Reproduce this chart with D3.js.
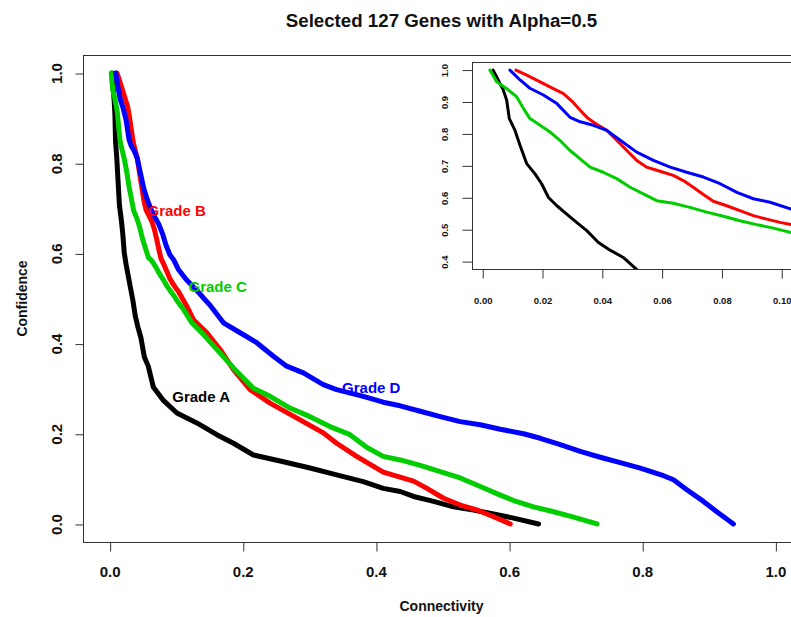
<!DOCTYPE html>
<html><head><meta charset="utf-8">
<script src="https://cdn.jsdelivr.net/npm/d3@7"></script>
<style>body{margin:0;background:#fff;} svg{display:block;font-family:"Liberation Sans",Arial,sans-serif;}</style>
</head><body><svg id="c" width="791" height="617"></svg>
<script>
// ---------- data ----------
const grades = ["Grade A", "Grade B", "Grade C", "Grade D"];
const gradeColors = ["#000000", "#ff0000", "#00cd00", "#0000ff"];

const gradeA_x = [0.0035,0.0052,0.0069,0.0080,0.0089,0.0108,0.0125,0.0147,0.0175,0.0197,0.0220,0.0248,0.0281,0.0314,0.0348,0.0387,0.0426,0.0470,0.0520,0.0580,0.0658,0.0808,0.1010,0.1310,0.1610,0.1860,0.2160,0.2610,0.3010,0.3410,0.3810,0.4110,0.4365,0.4565,0.4866,0.5166,0.5467,0.5767,0.6068,0.6443];
const gradeA_y = [1.000,0.969,0.937,0.906,0.848,0.811,0.764,0.707,0.675,0.644,0.601,0.575,0.549,0.523,0.497,0.460,0.436,0.413,0.371,0.350,0.303,0.274,0.246,0.224,0.198,0.179,0.153,0.138,0.124,0.109,0.094,0.079,0.072,0.061,0.050,0.038,0.031,0.022,0.013,0.000];

const gradeB_x = [0.0111,0.0147,0.0192,0.0236,0.0270,0.0298,0.0326,0.0353,0.0381,0.0415,0.0448,0.0482,0.0515,0.0548,0.0593,0.0637,0.0671,0.0704,0.0738,0.0771,0.0816,0.0860,0.0905,0.0950,0.0994,0.1031,0.1159,0.1259,0.1460,0.1660,0.1860,0.2110,0.2410,0.2760,0.3210,0.3410,0.3710,0.4110,0.4565,0.4766,0.5016,0.5267,0.5517,0.5767,0.6018];
const gradeB_y = [1.000,0.984,0.963,0.942,0.926,0.903,0.874,0.848,0.830,0.811,0.780,0.748,0.717,0.696,0.683,0.670,0.654,0.633,0.610,0.589,0.575,0.560,0.544,0.533,0.523,0.516,0.483,0.453,0.424,0.387,0.342,0.298,0.268,0.239,0.202,0.179,0.150,0.115,0.095,0.079,0.057,0.042,0.031,0.016,0.000];

const gradeC_x = [0.0024,0.0047,0.0080,0.0114,0.0136,0.0158,0.0192,0.0225,0.0258,0.0292,0.0326,0.0359,0.0403,0.0448,0.0493,0.0537,0.0582,0.0637,0.0693,0.0749,0.0805,0.0860,0.0916,0.0972,0.1031,0.1109,0.1235,0.1410,0.1610,0.1860,0.2160,0.2410,0.2710,0.3010,0.3310,0.3610,0.3860,0.4110,0.4365,0.4666,0.4966,0.5267,0.5567,0.5868,0.6068,0.6368,0.6669,0.6969,0.7320];
const gradeC_y = [1.000,0.963,0.942,0.916,0.880,0.848,0.827,0.806,0.780,0.748,0.722,0.696,0.680,0.660,0.633,0.612,0.591,0.583,0.570,0.555,0.542,0.528,0.516,0.505,0.491,0.476,0.446,0.420,0.387,0.346,0.301,0.283,0.257,0.238,0.216,0.198,0.170,0.150,0.142,0.130,0.116,0.102,0.083,0.064,0.052,0.038,0.027,0.015,0.000];

const gradeD_x = [0.0091,0.0125,0.0158,0.0203,0.0248,0.0292,0.0326,0.0370,0.0415,0.0460,0.0515,0.0571,0.0627,0.0682,0.0738,0.0794,0.0850,0.0905,0.0961,0.1031,0.1150,0.1320,0.1520,0.1710,0.1960,0.2210,0.2460,0.2660,0.2910,0.3210,0.3410,0.3810,0.4110,0.4365,0.4666,0.4966,0.5267,0.5567,0.5868,0.6218,0.6469,0.6769,0.7069,0.7370,0.7670,0.7970,0.8320,0.8470,0.8670,0.8920,0.9120,0.9370];
const gradeD_y = [1.000,0.969,0.943,0.922,0.895,0.852,0.838,0.827,0.811,0.780,0.743,0.717,0.696,0.680,0.665,0.644,0.617,0.597,0.586,0.565,0.542,0.516,0.483,0.446,0.424,0.402,0.372,0.350,0.335,0.309,0.298,0.283,0.270,0.262,0.250,0.238,0.227,0.220,0.210,0.200,0.190,0.176,0.161,0.148,0.136,0.124,0.107,0.098,0.076,0.050,0.027,0.000];

// label anchor points (data units)
const labelX = [0.1375, 0.1007, 0.1623, 0.3930];
const labelY = [0.282, 0.696, 0.5256, 0.302];

const mainXTicks = [0, 0.2, 0.4, 0.6, 0.8, 1.0];
const mainYTicks = [0, 0.2, 0.4, 0.6, 0.8, 1.0];
const insetXTicks = [0, 0.02, 0.04, 0.06, 0.08, 0.10];
const insetYTicks = [0.4, 0.5, 0.6, 0.7, 0.8, 0.9, 1.0];

const titleText = "Selected 127 Genes with Alpha=0.5";
const xTitle = "Connectivity";
const yTitle = "Confidence";

// ---------- drawing ----------
const xs = [gradeA_x, gradeB_x, gradeC_x, gradeD_x];
const ys = [gradeA_y, gradeB_y, gradeC_y, gradeD_y];
const series = grades.map((g, i) => ({name: g, color: gradeColors[i], pts: d3.zip(xs[i], ys[i])}));

const svg = d3.select("#c");
const FONT = '"Liberation Sans", Arial, sans-serif';

// main plot region
const M = {l: 83, t: 55, r: 802, b: 542};
const x = d3.scaleLinear().domain([-0.04, 1.04]).range([M.l, M.r]);
const y = d3.scaleLinear().domain([-0.04, 1.04]).range([M.b, M.t]);

const defs = svg.append("defs");
defs.append("clipPath").attr("id", "clipMain").append("rect")
  .attr("x", M.l).attr("y", M.t).attr("width", M.r - M.l).attr("height", M.b - M.t);

// title
svg.append("text").attr("x", 441.5).attr("y", 26.7).attr("text-anchor", "middle")
  .style("font", `bold 18.7px ${FONT}`).attr("fill", "#111").text(titleText);

// lines
const line = d3.line().x(d => x(d[0])).y(d => y(d[1]));
const gMain = svg.append("g").attr("clip-path", "url(#clipMain)");
series.forEach(s => {
  gMain.append("path").datum(s.pts).attr("d", line)
    .attr("fill", "none").attr("stroke", s.color).attr("stroke-width", 5)
    .attr("stroke-linejoin", "round").attr("stroke-linecap", "round");
});

// labels
series.forEach((s, i) => {
  svg.append("text").attr("x", x(labelX[i])).attr("y", y(labelY[i])).attr("dy", "0.36em")
    .attr("text-anchor", "middle").style("font", `bold 15px ${FONT}`)
    .attr("fill", s.color).text(s.name);
});

// box
svg.append("rect").attr("x", M.l + 0.5).attr("y", M.t + 0.5)
  .attr("width", M.r - M.l).attr("height", M.b - M.t)
  .attr("fill", "none").attr("stroke", "#333").attr("stroke-width", 1);

// x axis
const xAxis = svg.append("g").attr("transform", `translate(0,${M.b + 0.5})`)
  .call(d3.axisBottom(x).tickValues(mainXTicks).tickFormat(d3.format(".1f")).tickSize(9));
xAxis.select(".domain").remove();
xAxis.selectAll("line").attr("stroke", "#333").attr("transform", "translate(0.5,0)");
xAxis.selectAll("text").attr("y", 576.7 - M.b).attr("dy", null)
  .style("font", `bold 15px ${FONT}`).attr("fill", "#111");

// y axis
const yAxis = svg.append("g").attr("transform", `translate(${M.l + 0.5},0)`)
  .call(d3.axisLeft(y).tickValues(mainYTicks).tickFormat(d3.format(".1f")).tickSize(8));
yAxis.select(".domain").remove();
yAxis.selectAll("line").attr("stroke", "#333").attr("transform", "translate(0,0.5)");
yAxis.selectAll("text").attr("x", null).attr("dy", null).attr("text-anchor", "middle")
  .attr("transform", `translate(${61.7 - M.l},0) rotate(-90)`)
  .style("font", `bold 15px ${FONT}`).attr("fill", "#111");

// axis titles
svg.append("text").attr("x", 441.5).attr("y", 611).attr("text-anchor", "middle")
  .style("font", `bold 14px ${FONT}`).attr("fill", "#111").text(xTitle);
svg.append("text").attr("transform", "translate(26.5,298.5) rotate(-90)").attr("text-anchor", "middle")
  .style("font", `bold 14px ${FONT}`).attr("fill", "#111").text(yTitle);

// ---------- inset ----------
const I = {l: 471.7, t: 62.4, r: 793.7, b: 269.3};
const xi = d3.scaleLinear().domain([-0.00368, 0.104]).range([I.l, I.r]);
const yi = d3.scaleLinear().domain([0.376, 1.024]).range([I.b, I.t]);

defs.append("clipPath").attr("id", "clipInset").append("rect")
  .attr("x", I.l).attr("y", I.t).attr("width", I.r - I.l).attr("height", I.b - I.t);

svg.append("rect").attr("x", I.l).attr("y", I.t).attr("width", I.r - I.l).attr("height", I.b - I.t)
  .attr("fill", "#fff");

const lineI = d3.line().x(d => xi(d[0])).y(d => yi(d[1]));
const gIn = svg.append("g").attr("clip-path", "url(#clipInset)");
series.forEach(s => {
  gIn.append("path").datum(s.pts).attr("d", lineI)
    .attr("fill", "none").attr("stroke", s.color).attr("stroke-width", 3)
    .attr("stroke-linejoin", "round").attr("stroke-linecap", "round");
});

svg.append("rect").attr("x", Math.round(I.l) + 0.5).attr("y", Math.round(I.t) + 0.5)
  .attr("width", I.r - I.l).attr("height", Math.round(I.b) - Math.round(I.t))
  .attr("fill", "none").attr("stroke", "#333").attr("stroke-width", 1);

const xAxI = svg.append("g").attr("transform", `translate(0,${Math.round(I.b) + 0.5})`)
  .call(d3.axisBottom(xi).tickValues(insetXTicks).tickFormat(d3.format(".2f")).tickSize(9));
xAxI.select(".domain").remove();
xAxI.selectAll("line").attr("stroke", "#333");
xAxI.selectAll("text").attr("y", 303.3 - I.b).attr("dy", null)
  .style("font", `bold 9.5px ${FONT}`).attr("fill", "#111");

const yAxI = svg.append("g").attr("transform", `translate(${Math.round(I.l) + 0.5},0)`)
  .call(d3.axisLeft(yi).tickValues(insetYTicks).tickFormat(d3.format(".1f")).tickSize(10));
yAxI.select(".domain").remove();
yAxI.selectAll("line").attr("stroke", "#333");
yAxI.selectAll("text").attr("x", null).attr("dy", null).attr("text-anchor", "middle")
  .attr("transform", `translate(${448.3 - Math.round(I.l) - 0.5},0) rotate(-90)`)
  .style("font", `bold 9.5px ${FONT}`).attr("fill", "#111");
</script>
</body></html>
